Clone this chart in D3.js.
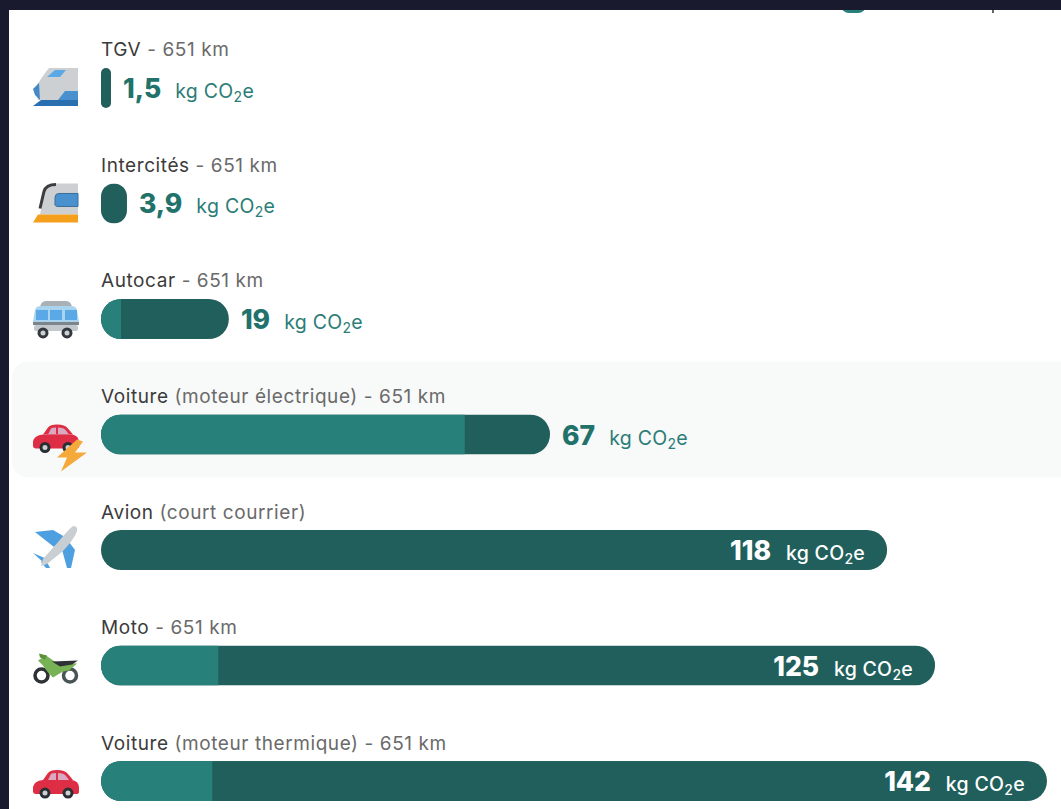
<!DOCTYPE html>
<html>
<head>
<meta charset="utf-8">
<script src="https://cdn.jsdelivr.net/npm/d3@7"></script>
<style>
  html, body { margin: 0; padding: 0; background: #fff; overflow: hidden; }
  text { font-family: Inter, "Noto Sans", sans-serif; }
</style>
</head>
<body>
<script>
// values
const rows = ["tgv", "intercites", "autocar", "electrique", "avion", "moto", "thermique"];
const names = ["TGV", "Intercités", "Autocar", "Voiture", "Avion", "Moto", "Voiture"];
const details = [" - 651 km", " - 651 km", " - 651 km", " (moteur électrique) - 651 km", " (court courrier)", " - 651 km", " (moteur thermique) - 651 km"];
const totals = [1.5, 3.9, 19.2, 67.4, 118, 125.2, 142];
const lightParts = [0, 0, 3, 54.6, 0, 17.6, 16.7];
const valueLabels = ["1,5", "3,9", "19", "67", "118", "125", "142"];

const width = 1061, height = 809;
const dark = "#205f5b", light = "#28807a", frame = "#1a1a2e";
const barHeight = 40;

const svg = d3.select("body").append("svg")
    .attr("width", width)
    .attr("height", height)
    .style("display", "block");

const x = d3.scaleLinear().domain([0, 142]).range([101, 1047]);
const y = d3.scaleBand().domain(rows).range([30.2, 838.8]);
const cy = function(d) { return y(d) + y.bandwidth() / 2; };

svg.append("rect").attr("width", width).attr("height", height).attr("fill", "#fff");

// highlighted row
svg.append("rect")
    .attr("x", 12).attr("y", cy("electrique") - 73)
    .attr("width", 1070).attr("height", 116)
    .attr("rx", 16)
    .attr("fill", "#f8f9f9");

// leftover of the block above, cut by the frame
svg.append("rect").attr("x", 841).attr("y", -20).attr("width", 25).attr("height", 33).attr("rx", 8).attr("fill", light);
svg.append("rect").attr("x", 992).attr("y", 10).attr("width", 2).attr("height", 3).attr("fill", "#666");

// dark page frame
svg.append("rect").attr("width", width).attr("height", 10).attr("fill", frame);
svg.append("rect").attr("width", 9).attr("height", height).attr("fill", frame);

const row = svg.selectAll(".row")
    .data(rows)
    .enter()
    .append("g")
    .attr("class", "row");

// labels
const label = row.append("text")
    .attr("x", 101)
    .attr("y", function(d) { return cy(d) - 31.5; })
    .attr("font-size", 19)
    .attr("letter-spacing", 0.58);
label.append("tspan")
    .attr("fill", "#3b3b3b")
    .text(function(d, i) { return names[i]; });
label.append("tspan")
    .attr("fill", "#6a6a6a")
    .text(function(d, i) { return details[i]; });

// bars
const defs = svg.append("defs");
rows.forEach(function(d, i) {
  const w = x(totals[i]) - x(0);
  defs.append("clipPath").attr("id", "clip-" + d)
    .append("rect")
    .attr("x", x(0)).attr("y", cy(d) - barHeight / 2)
    .attr("width", w).attr("height", barHeight)
    .attr("rx", Math.min(w / 2, barHeight / 2));
});

row.append("rect")
    .attr("x", x(0))
    .attr("y", function(d) { return cy(d) - barHeight / 2; })
    .attr("width", function(d, i) { return x(totals[i]) - x(0); })
    .attr("height", barHeight)
    .attr("clip-path", function(d) { return "url(#clip-" + d + ")"; })
    .attr("fill", dark);

row.append("rect")
    .attr("x", x(0))
    .attr("y", function(d) { return cy(d) - barHeight / 2; })
    .attr("width", function(d, i) { return x(lightParts[i]) - x(0); })
    .attr("height", barHeight)
    .attr("clip-path", function(d) { return "url(#clip-" + d + ")"; })
    .attr("fill", light);

// value + unit, inside the bar when the bar is long enough
const unitWidth = 80, gap = 14;
const inside = function(i) { return totals[i] > 100; };

const value = row.append("text")
    .attr("class", "value")
    .attr("y", function(d) { return cy(d) + 10; })
    .attr("font-size", 26.5)
    .attr("font-weight", 800)
    .attr("fill", function(d, i) { return inside(i) ? "#fff" : "#22726c"; })
    .attr("text-anchor", function(d, i) { return inside(i) ? "end" : "start"; })
    .attr("x", function(d, i) {
      return inside(i) ? x(totals[i]) - 22 - unitWidth - gap : x(totals[i]) + 12;
    })
    .text(function(d, i) { return valueLabels[i]; });

const unit = row.append("text")
    .attr("y", function(d) { return cy(d) + 10; })
    .attr("font-size", 19.5)
    .attr("letter-spacing", 0.3)
    .attr("font-weight", function(d, i) { return inside(i) ? 500 : 400; })
    .attr("fill", function(d, i) { return inside(i) ? "#fff" : "#2b7d77"; })
    .attr("text-anchor", function(d, i) { return inside(i) ? "end" : "start"; })
    .attr("x", function(d, i) {
      // outside bars: unit follows the number
      if (inside(i)) return x(totals[i]) - 22;
      const v = d3.select(this.parentNode).select(".value").node();
      return x(totals[i]) + 12 + v.getComputedTextLength() + gap;
    });
unit.append("tspan").text("kg CO");
unit.append("tspan").attr("dy", 4).attr("font-size", 14).text("2");
unit.append("tspan").attr("dy", -4).text("e");

// icons, drawn around (0, 0) = left edge at bar centre
const poly = function(g, d, c) { g.append("path").attr("d", d).attr("fill", c); };

const icons = {
  tgv: function(g) {
    poly(g, "M16 -20 H45 V12 H5 L2 1 Q7 -9 16 -20Z", "#ccd0d3");
    poly(g, "M14 -11 L22 -18 H33 L27 -11Z", "#5aa8e6");
    poly(g, "M0 1 L6 -5 L7 12 L2 7Z", "#4289c6");
    poly(g, "M25 12 L32 3 H45 V12Z", "#4a90cf");
    poly(g, "M0 18 L8 12 H45 V18Z", "#2a6fb0");
  },
  intercites: function(g) {
    poly(g, "M7 11 L12 -12 Q14 -20 23 -20 H45 V11Z", "#ccd0d3");
    g.append("path").attr("d", "M7 5 L11 -12 Q13 -19 23 -19")
      .attr("fill", "none").attr("stroke", "#3d3d3d").attr("stroke-width", 3);
    g.append("path").attr("d", "M26 -10 H45 V3 H25 Q21 3 22 -1 L22 -6 Q22 -10 26 -10Z")
      .attr("fill", "#4a90cf").attr("stroke", "#3a6f98").attr("stroke-width", 1);
    poly(g, "M0 19 L5 11 H45 V19Z", "#f5a01e");
  },
  autocar: function(g) {
    poly(g, "M7 -12 Q8 -18 13 -18 H33 Q38 -18 39 -12Z", "#a9b0b6");
    poly(g, "M0 3 L2 -9 Q3 -13 8 -13 H38 Q43 -13 44 -9 L46 3Z", "#a8d4f0");
    [3, 17, 32].forEach(function(a) {
      g.append("rect").attr("x", a).attr("y", -9).attr("width", 12).attr("height", 10).attr("fill", "#5aa8e6");
    });
    g.append("rect").attr("x", 0).attr("y", 3).attr("width", 46).attr("height", 3).attr("fill", "#7c858c");
    g.append("rect").attr("x", 1).attr("y", 6).attr("width", 44).attr("height", 6).attr("rx", 2).attr("fill", "#c3c8cc");
    [10, 34].forEach(function(a) {
      g.append("circle").attr("cx", a).attr("cy", 14).attr("r", 4).attr("fill", "#ccd0d3").attr("stroke", "#33393d").attr("stroke-width", 3);
    });
  },
  car: function(g) {
    poly(g, "M10 -3 L15 -10 Q17 -13 24 -13 Q32 -13 35 -9 L40 -3Z", "#dd2e44");
    poly(g, "M15 -3 L18 -9 Q19 -10 23 -10 V-3Z M25 -10 Q31 -10 33 -7 L36 -3 H25Z", "#d8a9c0");
    poly(g, "M0 4 Q1 -2 10 -3 H39 Q46 -2 46 5 V9 Q46 11 43 11 H3 Q0 11 0 8Z", "#dd2e44");
    [12, 35].forEach(function(a) {
      g.append("circle").attr("cx", a).attr("cy", 10).attr("r", 4).attr("fill", "#ccd0d3").attr("stroke", "#292f33").attr("stroke-width", 3);
    });
  },
  bolt: function(g) {
    poly(g, "M44 2 L24 20 H34 L28 34 L54 15 H42 L50 4Z", "#f6a93b");
  },
  avion: function(g) {
    poly(g, "M2 -18 L20 -20 L32 -13 L21 -3Z", "#4e9fe0");
    poly(g, "M28 -4 L36 -8 L42 0 L38 18 L34 18Z", "#4e9fe0");
    poly(g, "M0 3 L14 9 L11 13Z", "#4e9fe0");
    poly(g, "M12 8 L17 18 L13 18 L8 12Z", "#4e9fe0");
    poly(g, "M40 -24 Q45 -24 44 -19 Q42 -12 30 1 L14 14 L8 16 L10 9 L26 -9 Q34 -19 40 -24Z", "#c9ced2");
  },
  moto: function(g) {
    g.append("circle").attr("cx", 8.5).attr("cy", 10).attr("r", 6.5).attr("fill", "#fff").attr("stroke", "#2d3236").attr("stroke-width", 3.5);
    g.append("circle").attr("cx", 37).attr("cy", 10).attr("r", 6.5).attr("fill", "#fff").attr("stroke", "#4a5357").attr("stroke-width", 3.5);
    poly(g, "M5 -5 L13 -10 L23 -3 L44 -2 L36 5 L30 6 L20 12 L15 7 L10 0Z", "#77b255");
    poly(g, "M6 -12 L14 -10 L12 -6 L7 -8Z", "#5c913b");
    poly(g, "M19 -4 L45 -5 L39 -1 L27 1Z", "#2d3236");
  },
};

const iconOf = {tgv: ["tgv"], intercites: ["intercites"], autocar: ["autocar"], electrique: ["car", "bolt"], avion: ["avion"], moto: ["moto"], thermique: ["car"]};
const iconDy = {tgv: 0, intercites: 0, autocar: 0, electrique: 3, avion: 0, moto: 0, thermique: 2};

// icons are soft in the screenshot
defs.append("filter").attr("id", "soft")
  .append("feGaussianBlur").attr("stdDeviation", 0.5);

row.append("g")
    .attr("transform", function(d) { return "translate(33," + (cy(d) + iconDy[d]) + ")"; })
    .attr("filter", "url(#soft)")
    .each(function(d) {
      const g = d3.select(this);
      iconOf[d].forEach(function(k) { icons[k](g); });
    });
</script>
</body>
</html>
